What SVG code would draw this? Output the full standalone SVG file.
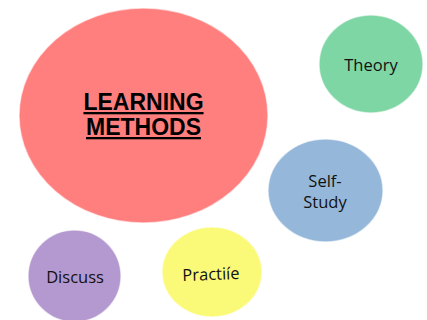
<svg xmlns="http://www.w3.org/2000/svg" width="427" height="320" viewBox="0 0 427 320">
<style>
.b{stroke:#ffffff;stroke-opacity:0.6;stroke-width:1.5}
.t{font-family:"Open Sans","Liberation Sans",sans-serif;font-size:16.5px;fill:#111;text-anchor:middle}
.h{font-family:"Liberation Sans",Arial,sans-serif;font-size:23px;font-weight:bold;fill:#000;text-anchor:middle;text-decoration:underline}
</style>
<rect width="427" height="320" fill="#ffffff"/>
<g id="learning-methods">
<ellipse class="b" cx="143.5" cy="115.5" rx="124.5" ry="107.5" fill="#FF7F7F"/>
<text class="h" x="143.5" y="110">LEARNING</text>
<text class="h" x="143.5" y="135">METHODS</text>
</g>
<g id="theory">
<ellipse class="b" cx="371" cy="64" rx="52" ry="49" fill="#7ED6A5"/>
<text class="t" x="371" y="71">Theory</text>
</g>
<g id="self-study">
<ellipse class="b" cx="325.5" cy="190.5" rx="57.5" ry="51.5" fill="#95B8DA"/>
<text class="t" x="325" y="187">Self-</text>
<text class="t" x="325" y="208">Study</text>
</g>
<g id="discuss">
<ellipse class="b" cx="74.5" cy="276" rx="46.5" ry="46" fill="#B499D0"/>
<text class="t" x="75" y="283">Discuss</text>
</g>
<g id="practice">
<ellipse class="b" cx="212" cy="272" rx="50" ry="45" fill="#FAFA78"/>
<text class="t" x="211" y="280" transform="rotate(-2 211 275)">Practiíe</text>
</g>
<g id="connectors"></g>
</svg>
